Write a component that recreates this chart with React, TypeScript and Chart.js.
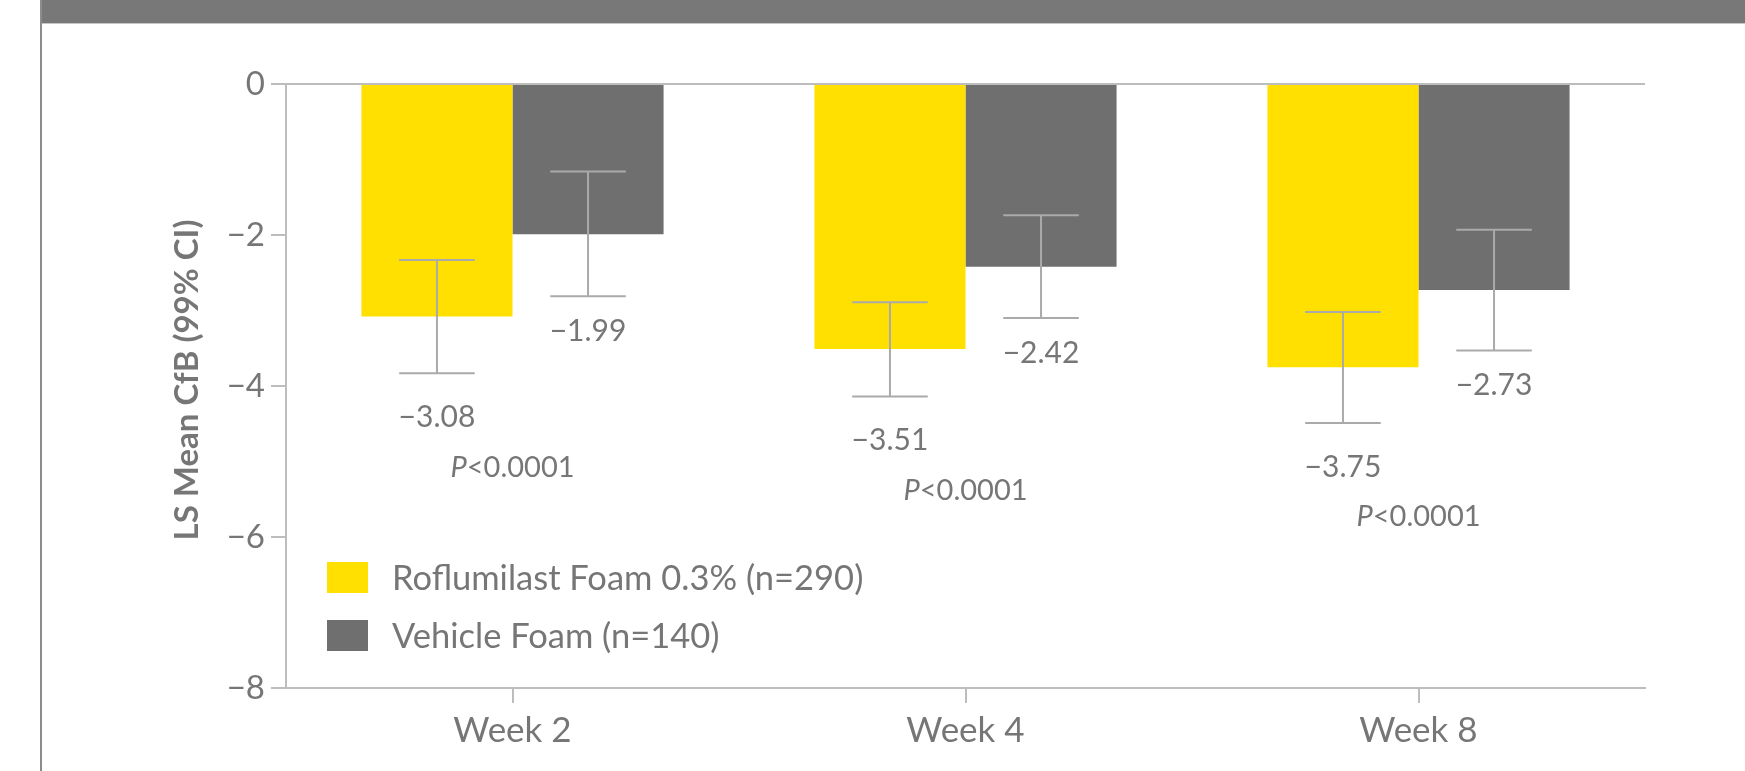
import React, { useEffect, useRef } from 'react';
import { Chart, registerables } from 'chart.js';

Chart.register(...registerables);

const categories = ['Week 2', 'Week 4', 'Week 8'];
const seriesNames = ['Roflumilast Foam 0.3% (n=290)', 'Vehicle Foam (n=140)'];
const roflumilastMean = [-3.08, -3.51, -3.75];
const roflumilastCiUpper = [-2.33, -2.89, -3.02];
const roflumilastCiLower = [-3.83, -4.14, -4.49];
const vehicleMean = [-1.99, -2.42, -2.73];
const vehicleCiUpper = [-1.16, -1.74, -1.93];
const vehicleCiLower = [-2.81, -3.1, -3.53];
const pValueLabels = ['P<0.0001', 'P<0.0001', 'P<0.0001'];
const yTicks = [0, -2, -4, -6, -8];
const yAxisTitle = 'LS Mean CfB (99% CI)';

const YELLOW = '#FFE000';
const DARK = '#6F6F6F';
const TEXT = '#767676';
const AXIS = '#BDBDBD';
const ERR = '#AAAAAA';
const FONT = 'Lato, "Open Sans", sans-serif';

const fmtNeg = (v: number, digits: number) =>
  v < 0 ? '\u2212' + Math.abs(v).toFixed(digits) : v.toFixed(digits);

const ciSets = [
  { mean: roflumilastMean, upper: roflumilastCiUpper, lower: roflumilastCiLower, labelOffset: 44 },
  { mean: vehicleMean, upper: vehicleCiUpper, lower: vehicleCiLower, labelOffset: 35 },
];

const overlayPlugin = {
  id: 'overlay',
  afterDatasetsDraw(chart: any) {
    const ctx = chart.ctx;
    const ys = chart.scales.y;
    ctx.save();
    // error bars + value labels
    ciSets.forEach((s, di) => {
      const meta = chart.getDatasetMeta(di);
      meta.data.forEach((bar: any, i: number) => {
        const x = bar.x;
        const hw = bar.width / 4;
        const yTop = ys.getPixelForValue(s.upper[i]);
        const yBot = ys.getPixelForValue(s.lower[i]);
        ctx.strokeStyle = ERR;
        ctx.lineWidth = 2;
        ctx.beginPath();
        ctx.moveTo(x, yTop);
        ctx.lineTo(x, yBot);
        ctx.moveTo(x - hw, yTop);
        ctx.lineTo(x + hw, yTop);
        ctx.moveTo(x - hw, yBot);
        ctx.lineTo(x + hw, yBot);
        ctx.stroke();
        ctx.fillStyle = TEXT;
        ctx.font = `30px ${FONT}`;
        ctx.textAlign = 'center';
        ctx.textBaseline = 'middle';
        ctx.fillText(fmtNeg(s.mean[i], 2), x, yBot + s.labelOffset);
      });
    });
    // P-value labels
    const xs = chart.scales.x;
    pValueLabels.forEach((lab, i) => {
      const cx = xs.getPixelForValue(i);
      const yBot = ys.getPixelForValue(roflumilastCiLower[i]);
      const y = yBot + 94;
      const first = lab.charAt(0);
      const rest = lab.slice(1);
      ctx.font = `italic 29px ${FONT}`;
      const w1 = ctx.measureText(first).width;
      ctx.font = `29px ${FONT}`;
      const w2 = ctx.measureText(rest).width;
      const x0 = cx - (w1 + w2) / 2;
      ctx.textAlign = 'left';
      ctx.textBaseline = 'middle';
      ctx.fillStyle = TEXT;
      ctx.font = `italic 29px ${FONT}`;
      ctx.fillText(first, x0, y);
      ctx.font = `29px ${FONT}`;
      ctx.fillText(rest, x0 + w1, y);
    });
    // legend
    const colors = [YELLOW, DARK];
    seriesNames.forEach((name, i) => {
      const by = 562 + i * 58;
      ctx.fillStyle = colors[i];
      ctx.fillRect(327, by, 41, 31);
      ctx.fillStyle = TEXT;
      ctx.font = `34.5px ${FONT}`;
      ctx.textAlign = 'left';
      ctx.textBaseline = 'middle';
      ctx.fillText(name, 392, by + 17);
    });
    // y axis title
    ctx.save();
    ctx.translate(187, (chart.chartArea.top + chart.chartArea.bottom) / 2 - 6);
    ctx.rotate(-Math.PI / 2);
    ctx.font = `bold 33px ${FONT}`;
    ctx.fillStyle = TEXT;
    ctx.textAlign = 'center';
    ctx.textBaseline = 'middle';
    ctx.fillText(yAxisTitle, 0, 0);
    ctx.restore();
    ctx.restore();
  },
};

export default function App() {
  const ref = useRef<HTMLCanvasElement | null>(null);

  useEffect(() => {
    if (!ref.current) return;
    const chart = new Chart(ref.current, {
      type: 'bar',
      data: {
        labels: categories,
        datasets: [
          {
            label: seriesNames[0],
            data: roflumilastMean,
            backgroundColor: YELLOW,
            borderWidth: 0,
            categoryPercentage: 0.667,
            barPercentage: 1.0,
          },
          {
            label: seriesNames[1],
            data: vehicleMean,
            backgroundColor: DARK,
            borderWidth: 0,
            categoryPercentage: 0.667,
            barPercentage: 1.0,
          },
        ],
      },
      options: {
        responsive: false,
        animation: false,
        devicePixelRatio: 1,
        layout: { padding: { top: 84, right: 100, bottom: 0, left: 0 } },
        plugins: {
          legend: { display: false },
          tooltip: { enabled: false },
        },
        scales: {
          x: {
            grid: {
              display: true,
              drawOnChartArea: false,
              offset: false,
              tickLength: 15,
              tickColor: AXIS,
              lineWidth: 2,
            },
            border: { color: AXIS, width: 2 },
            ticks: {
              color: TEXT,
              font: { family: FONT, size: 35 },
              padding: 7,
              maxRotation: 0,
            },
            afterFit: (s: any) => {
              s.height = 83;
            },
          },
          y: {
            min: -8,
            max: 0,
            afterBuildTicks: (s: any) => {
              s.ticks = yTicks.map((v) => ({ value: v }));
            },
            grid: {
              color: (c: any) => (c.tick && c.tick.value === 0 ? AXIS : 'rgba(0,0,0,0)'),
              tickColor: AXIS,
              tickLength: 15,
              lineWidth: 2,
            },
            border: { color: AXIS, width: 2 },
            ticks: {
              color: TEXT,
              font: { family: FONT, size: 33 },
              padding: 6,
              callback: (v: any) => fmtNeg(Number(v), 0),
            },
            afterFit: (s: any) => {
              s.width = 286;
            },
          },
        },
      },
      plugins: [overlayPlugin],
    } as any);
    return () => chart.destroy();
  }, []);

  return (
    <div style={{ position: 'fixed', left: 0, top: 0, width: 1745, height: 771, background: '#ffffff', overflow: 'hidden' }}>
      <div style={{ position: 'absolute', left: 41, top: 0, right: 0, height: 23, background: '#787878' }} />
      <div style={{ position: 'absolute', left: 41, top: 23, right: 0, height: 1, background: '#C6C6C6' }} />
      <div style={{ position: 'absolute', left: 40, top: 0, width: 2, height: 771, background: '#8C8C8C' }} />
      <canvas ref={ref} width={1745} height={771} style={{ position: 'absolute', left: 0, top: 0, width: 1745, height: 771 }} />
    </div>
  );
}
